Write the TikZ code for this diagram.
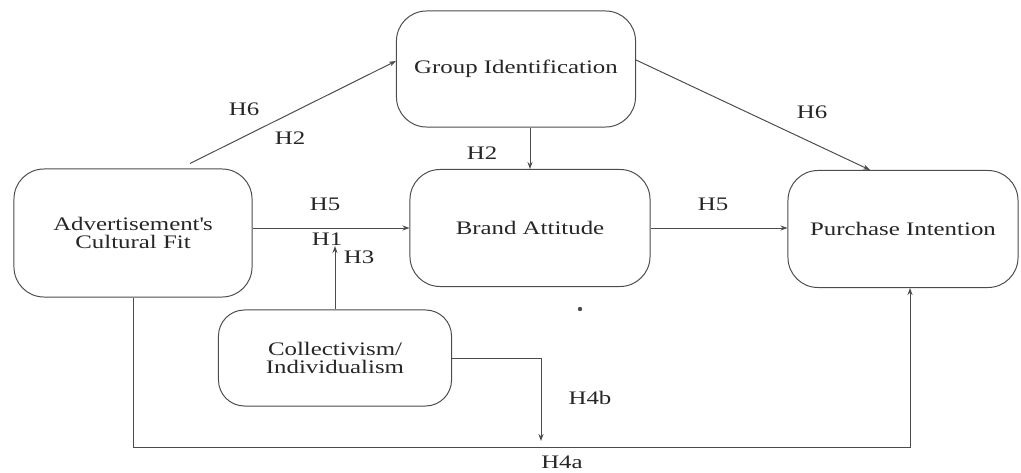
\documentclass[tikz,border=0pt]{standalone}
\usepackage{fontspec}
\setmainfont{Liberation Serif}[FakeStretch=1.3]
\usepackage{tikz}
\usetikzlibrary{positioning, arrows.meta, calc}

\tikzset{
  box/.style={draw=black!70, line width=0.7pt, rounded corners=0.75cm, align=center, inner sep=0pt},
  arr/.style={draw=black!70, line width=0.7pt, -{Stealth[length=5pt, width=3.6pt]}},
  hyp/.style={inner sep=1pt}
}

\begin{document}
\begin{tikzpicture}[x=0.025cm, y=-0.025cm, font=\fontsize{13.6}{12.8}\selectfont, text=black!85]
    \useasboundingbox (0,0) rectangle (1021,473);

    % Boites
    \node[box, minimum width=5.95cm, minimum height=3.2cm] (adv) at (133,233) {Advertisement\textquotesingle s\\Cultural Fit};
    \node[box, minimum width=5.975cm, minimum height=2.9cm] (grp) at (516,69) {Group Identification};
    \node[box, minimum width=6cm, minimum height=2.925cm] (brand) at (530,228) {Brand Attitude};
    \node[box, minimum width=5.75cm, minimum height=2.925cm] (purch) at (903,229) {Purchase Intention};
    \node[box, minimum width=5.825cm, minimum height=2.4cm, rounded corners=0.65cm] (coll) at (335,358) {Collectivism/\\Individualism};

    % Points libres
    \coordinate (hunTip) at (335,246);
    \coordinate (hqbTip) at (541,441);
    \coordinate (hqaCorner) at (910,447);
    \node[circle, fill=black!70, inner sep=1.1pt] (dot) at (580,309) {};

    % Fleches
    \draw[arr] ($(adv.north)+(57,-5)$) -- ($(grp.west)+(0,-8)$);
    \draw[arr] ($(grp.east)+(0,-9)$) -- ($(purch.north)+(-33,0)$);
    \draw[arr] (grp.south -| brand.north) -- (brand.north);
    \draw[arr] (adv.east |- brand.west) -- (brand.west);
    \draw[arr] (brand.east) -- (purch.west |- brand.east);
    \draw[arr] (coll.north) -- (hunTip);
    \draw[arr] (coll.east) -| (hqbTip);
    \draw[arr] (adv.south) |- (hqaCorner) -- (purch.south -| hqaCorner);

    % Hypotheses
    \node[hyp] (hsixA) at (244,109) {H6};
    \node[hyp] (hdeuxA) at (290,138) {H2};
    \node[hyp] (hdeuxB) at (482,153) {H2};
    \node[hyp] (hcinqA) at (325,204) {H5};
    \node[hyp] (hun) at (327,239) {H1};
    \node[hyp] (hsixB) at (812,112) {H6};
    \node[hyp] (hcinqB) at (713,204) {H5};
    \node[hyp] (htrois) at (359,257) {H3};
    \node[hyp] (hqb) at (590,398) {H4b};
    \node[hyp] (hqa) at (562,462) {H4a};
\end{tikzpicture}
\end{document}
